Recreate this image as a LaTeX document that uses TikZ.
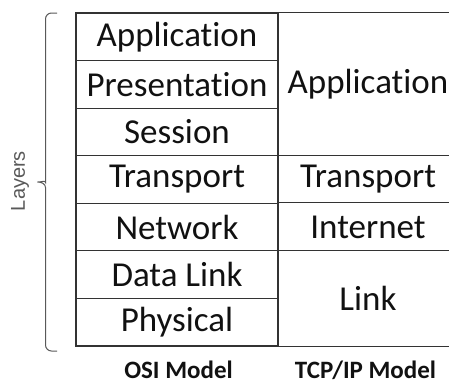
\documentclass[tikz,border=0pt]{standalone}
\usepackage{fontspec}
\setmainfont{Carlito}[Ligatures=NoCommon]
\newfontfamily\bracefont{Liberation Sans}
\definecolor{gridline}{HTML}{333333}
\definecolor{bracegray}{HTML}{595959}
\definecolor{ink}{HTML}{111111}
\begin{document}
\begin{tikzpicture}[x=1pt, y=-1pt,
  osicell/.style={draw=gridline, line width=1.1pt, minimum width=202pt,
    minimum height=47.57pt, inner sep=0pt, text=ink,
    font=\fontsize{35}{38}\selectfont},
  tcpcell/.style={inner sep=0pt, text=ink, font=\fontsize{35}{38}\selectfont},
  grid/.style={draw=gridline, line width=1.1pt},
  caption/.style={inner sep=0pt, anchor=base, text depth=0pt, text=ink,
    font=\fontsize{25}{28}\selectfont\bfseries},
]
\useasboundingbox (0,0) rectangle (449,384);

% OSI column
\node[osicell] (app)  at (177,36.8)  {Application};
\node[osicell] (pres) at (177,84.4)  {Presentation};
\node[osicell] (sess) at (177,131.9) {Session};
\node[osicell] (tran) at (177,179.5) {Transport};
\node[osicell] (net)  at (177,227.1) {Network};
\node[osicell] (dl)   at (177,274.6) {Data Link};
\node[osicell] (phy)  at (177,322.2) {Physical};

% TCP/IP column
\coordinate (edge) at (449,0);
\node[tcpcell] (tapp)  at (368,84.4)  {Application};
\node[tcpcell] (ttran) at (368,179.5) {Transport};
\node[tcpcell] (tint)  at (368,227.1) {Internet};
\node[tcpcell] (tlink) at (368,298.4) {Link};

\path[grid] (app.north east)  -- (app.north east -| edge)
            (tran.north east) -- (tran.north east -| edge)
            (net.north east)  -- (net.north east -| edge)
            (dl.north east)   -- (dl.north east -| edge)
            (phy.south east)  -- (phy.south east -| edge);

% Captions
\node[caption] (osi) at (178.5,378.5) {OSI Model};
\node[caption] (tcp) at (365.5,378.5) {TCP/IP Model};

% Brace with label
\coordinate (btop) at (57,13);
\coordinate (bbot) at (57,351);
\draw[bracegray, line width=1pt, rounded corners=6pt]
  (btop) -- (45.5,13) -- (45.5,176.5) [sharp corners]
  to[out=270,in=0] (37.5,182) to[out=0,in=90] (45.5,187.5)
  [rounded corners=6pt] -- (45.5,351) -- (bbot);
\node[rotate=90, text=bracegray, inner sep=0pt,
  font=\bracefont\fontsize{20}{22}\selectfont] (layers) at (20,181) {Layers};
\end{tikzpicture}
\end{document}
